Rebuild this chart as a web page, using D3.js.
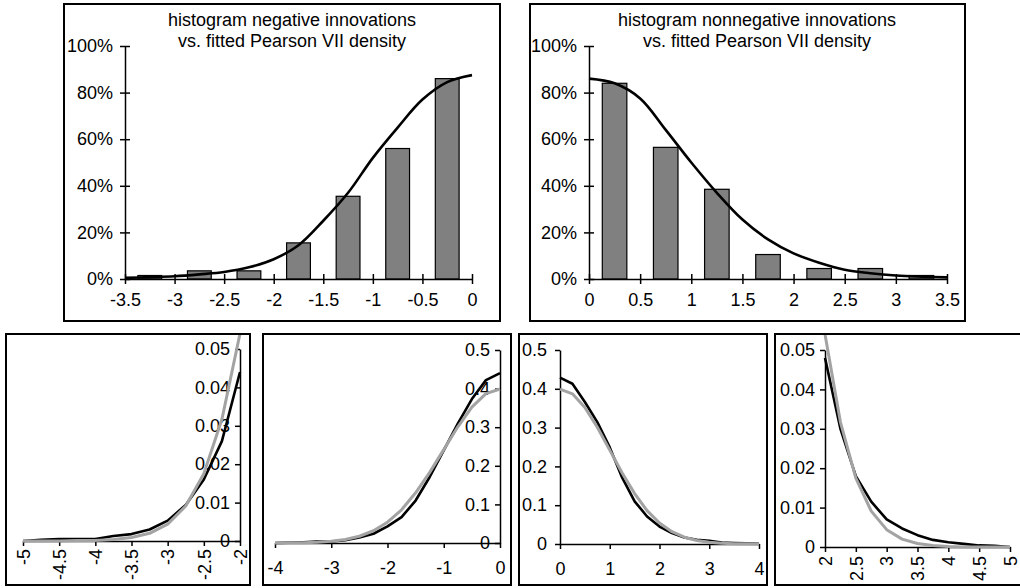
<!DOCTYPE html>
<html>
<head>
<meta charset="utf-8">
<script src="https://cdn.jsdelivr.net/npm/d3@7"></script>
<style>
  body { margin: 0; background: #fff; }
  svg { display: block; font-family: "Liberation Sans", Arial, sans-serif; }
</style>
</head>
<body>
<svg id="chart" width="1020" height="588"></svg>
<script>
// histogram data (share of max, 0..1)
const negBins = [-3.25, -2.75, -2.25, -1.75, -1.25, -0.75, -0.25];
const negHist = [0.015, 0.035, 0.035, 0.155, 0.355, 0.56, 0.86];
const posBins = [0.25, 0.75, 1.25, 1.75, 2.25, 2.75, 3.25];
const posHist = [0.84, 0.565, 0.385, 0.105, 0.045, 0.045, 0.015];

// fitted Pearson VII curves
const negCurveX = [-3.5, -3.25, -3, -2.75, -2.5, -2.25, -2, -1.75, -1.5, -1.25, -1, -0.75, -0.5, -0.25, 0];
const negCurveY = [0.005, 0.008, 0.012, 0.02, 0.03, 0.05, 0.085, 0.145, 0.25, 0.37, 0.52, 0.65, 0.77, 0.845, 0.875];
const posCurveX = [0, 0.25, 0.5, 0.75, 1, 1.25, 1.5, 1.75, 2, 2.25, 2.5, 2.75, 3, 3.25, 3.5];
const posCurveY = [0.86, 0.84, 0.775, 0.64, 0.5, 0.37, 0.255, 0.17, 0.11, 0.07, 0.04, 0.025, 0.015, 0.01, 0.007];

const pctTicks = [0, 0.2, 0.4, 0.6, 0.8, 1];
const negTicks = [-3.5, -3, -2.5, -2, -1.5, -1, -0.5, 0];
const posTicks = [0, 0.5, 1, 1.5, 2, 2.5, 3, 3.5];

// bottom panels: empirical (black) vs normal (grey)
const tailNegX = [-5, -4.75, -4.5, -4.25, -4, -3.75, -3.5, -3.25, -3, -2.75, -2.5, -2.25, -2];
const tailNegEmp = [0, 0.0003, 0.0005, 0.0005, 0.0005, 0.0013, 0.0018, 0.003, 0.0053, 0.0094, 0.016, 0.026, 0.044];
const tailNegNorm = [0, 0, 0, 0.0001, 0.0001, 0.0004, 0.0009, 0.002, 0.0044, 0.0091, 0.0175, 0.0317, 0.054];

const bodyNegX = [-4, -3.75, -3.5, -3.25, -3, -2.75, -2.5, -2.25, -2, -1.75, -1.5, -1.25, -1, -0.75, -0.5, -0.25, 0];
const bodyNegEmp = [0, 0.001, 0.002, 0.0035, 0.004, 0.007, 0.014, 0.024, 0.043, 0.067, 0.11, 0.171, 0.24, 0.309, 0.373, 0.422, 0.44];
const bodyNegNorm = [0.0001, 0.0004, 0.0009, 0.002, 0.0044, 0.0091, 0.0175, 0.0317, 0.054, 0.086, 0.13, 0.183, 0.242, 0.301, 0.352, 0.387, 0.399];

const bodyPosX = [0, 0.25, 0.5, 0.75, 1, 1.25, 1.5, 1.75, 2, 2.25, 2.5, 2.75, 3, 3.25, 3.5, 3.75, 4];
const bodyPosEmp = [0.429, 0.413, 0.366, 0.314, 0.249, 0.171, 0.11, 0.071, 0.045, 0.028, 0.017, 0.011, 0.008, 0.004, 0.0026, 0.0017, 0.0005];
const bodyPosNorm = [0.399, 0.387, 0.352, 0.301, 0.242, 0.183, 0.13, 0.086, 0.054, 0.0317, 0.0175, 0.0091, 0.0044, 0.002, 0.0009, 0.0004, 0.0001];

const tailPosX = [2, 2.25, 2.5, 2.75, 3, 3.25, 3.5, 3.75, 4, 4.25, 4.5, 4.75, 5];
const tailPosEmp = [0.048, 0.03, 0.018, 0.0115, 0.007, 0.0047, 0.003, 0.0018, 0.0012, 0.0008, 0.0004, 0.0003, 0];
const tailPosNorm = [0.054, 0.0317, 0.0175, 0.0091, 0.0044, 0.002, 0.0009, 0.0004, 0.0001, 0, 0, 0, 0];

const tailNegTicks = [-5, -4.5, -4, -3.5, -3, -2.5, -2];
const bodyNegTicks = [-4, -3, -2, -1, 0];
const bodyPosTicks = [0, 1, 2, 3, 4];
const tailPosTicks = [2, 2.5, 3, 3.5, 4, 4.5, 5];
const smallYTicks = [0, 0.01, 0.02, 0.03, 0.04, 0.05];
const bigYTicks = [0, 0.1, 0.2, 0.3, 0.4, 0.5];

const svg = d3.select('#chart');
const FONT = 18;

function styleAxis(g) {
    g.selectAll('path.domain').attr('stroke', '#000').attr('stroke-width', 1.5);
    g.selectAll('.tick line').attr('stroke', '#000').attr('stroke-width', 1.5);
    g.selectAll('text').attr('font-size', FONT).attr('fill', '#000')
        .attr('font-family', '"Liberation Sans", Arial, sans-serif');
}

// 0, 0.01 .. 0.05 or 0.1 .. 0.5
function numFmt(d) {
    if (d === 0) return '0';
    return d3.format(Math.abs(d) < 0.1 ? '.2f' : '.1f')(d);
}

// top histograms
function histPanel(o) {
    const g = svg.append('g');
    g.append('rect')
        .attr('x', o.box[0]).attr('y', o.box[1])
        .attr('width', o.box[2]).attr('height', o.box[3])
        .attr('fill', 'none').attr('stroke', '#000').attr('stroke-width', 2);

    const x = d3.scaleLinear().domain(o.xDomain).range(o.xRange);
    const y = d3.scaleLinear().domain([0, 1]).range([279, 46]);

    g.selectAll('rect.bar')
        .data(o.bins)
        .enter()
        .append('rect')
        .attr('class', 'bar')
        .attr('x', (d) => x(d - 0.12))
        .attr('width', x(0.24) - x(0))
        .attr('y', (d, i) => y(o.hist[i]))
        .attr('height', (d, i) => y(0) - y(o.hist[i]))
        .attr('fill', '#808080')
        .attr('stroke', '#000')
        .attr('stroke-width', 1.2);

    const line = d3.line()
        .x((d) => x(d[0]))
        .y((d) => y(d[1]))
        .curve(d3.curveCatmullRom);

    g.append('path')
        .datum(o.curveX.map((v, i) => [v, o.curveY[i]]))
        .attr('d', line)
        .attr('fill', 'none')
        .attr('stroke', '#000')
        .attr('stroke-width', 2.6);

    const yAxis = g.append('g')
        .attr('transform', 'translate(' + o.xRange[0] + ',0)')
        .call(d3.axisLeft(y).tickValues(pctTicks).tickFormat(d3.format('.0%')).tickSize(5).tickSizeOuter(0).tickPadding(7));
    yAxis.selectAll('.tick line').attr('x1', 5);
    styleAxis(yAxis);

    const xAxis = g.append('g')
        .attr('transform', 'translate(0,' + y(0) + ')')
        .call(d3.axisBottom(x).tickValues(o.ticks).tickFormat((d) => String(d)).tickSize(5).tickSizeOuter(0).tickPadding(9));
    xAxis.selectAll('.tick line').attr('y1', -5);
    styleAxis(xAxis);

    // title, two lines
    o.title.forEach((t, i) => {
        g.append('text')
            .attr('x', o.titleX)
            .attr('y', 26 + i * 21)
            .attr('text-anchor', 'middle')
            .attr('font-size', FONT)
            .text(t);
    });
}

histPanel({
    box: [64, 4, 436, 317],
    xDomain: [-3.5, 0], xRange: [125, 472],
    bins: negBins, hist: negHist,
    curveX: negCurveX, curveY: negCurveY,
    ticks: negTicks,
    title: ['histogram negative innovations', 'vs. fitted Pearson VII density'],
    titleX: 292
});

histPanel({
    box: [530, 4, 435, 317],
    xDomain: [0, 3.5], xRange: [589, 947],
    bins: posBins, hist: posHist,
    curveX: posCurveX, curveY: posCurveY,
    ticks: posTicks,
    title: ['histogram nonnegative innovations', 'vs. fitted Pearson VII density'],
    titleX: 757
});

// bottom comparison panels
let clipId = 0;
function linePanel(o) {
    const g = svg.append('g');
    const id = 'clip' + (clipId++);
    svg.append('clipPath').attr('id', id)
        .append('rect')
        .attr('x', o.box[0] + 1).attr('y', o.box[1] + 1)
        .attr('width', o.box[2] - 2).attr('height', o.box[3] - 2);

    g.append('rect')
        .attr('x', o.box[0]).attr('y', o.box[1])
        .attr('width', o.box[2]).attr('height', o.box[3])
        .attr('fill', 'none').attr('stroke', '#000').attr('stroke-width', 2);

    const x = d3.scaleLinear().domain(o.xDomain).range(o.xRange);
    const y = d3.scaleLinear().domain(o.yDomain).range(o.yRange);

    const yAxis = g.append('g')
        .attr('transform', 'translate(' + o.yAxisAt + ',0)')
        .call(d3.axisLeft(y).tickValues(o.yTicks).tickFormat(numFmt).tickSize(5).tickSizeOuter(0).tickPadding(o.yPad));
    styleAxis(yAxis);

    const xAxis = g.append('g')
        .attr('transform', 'translate(0,' + o.yRange[0] + ')')
        .call(d3.axisBottom(x).tickValues(o.xTicks).tickFormat((d) => String(d)).tickSize(5).tickSizeOuter(0).tickPadding(13));
    styleAxis(xAxis);

    if (o.rotate) {
        xAxis.selectAll('.tick text')
            .attr('transform', 'rotate(-90)')
            .attr('x', -o.rotOffset)
            .attr('y', 0)
            .attr('dy', '0.35em')
            .attr('text-anchor', 'end');
    }

    const line = d3.line()
        .x((d) => x(d[0]))
        .y((d) => y(d[1]));

    const lines = g.append('g').attr('clip-path', 'url(#' + id + ')');
    lines.append('path')
        .datum(o.xs.map((v, i) => [v, o.emp[i]]))
        .attr('d', line)
        .attr('fill', 'none')
        .attr('stroke', '#000')
        .attr('stroke-width', 2.6)
        .attr('stroke-linejoin', 'round');
    lines.append('path')
        .datum(o.xs.map((v, i) => [v, o.norm[i]]))
        .attr('d', line)
        .attr('fill', 'none')
        .attr('stroke', '#a3a3a3')
        .attr('stroke-width', 3)
        .attr('stroke-linejoin', 'round');
}

linePanel({
    box: [6, 334, 244, 251],
    xDomain: [-5, -2], xRange: [23, 240],
    yDomain: [0, 0.05], yRange: [541, 349],
    yAxisAt: 240, yPad: 5,
    xTicks: tailNegTicks, yTicks: smallYTicks,
    rotate: true, rotOffset: 8,
    xs: tailNegX, emp: tailNegEmp, norm: tailNegNorm
});

linePanel({
    box: [263, 334, 248, 251],
    xDomain: [-4, 0], xRange: [275, 500],
    yDomain: [0, 0.5], yRange: [543, 350],
    yAxisAt: 500, yPad: 5,
    xTicks: bodyNegTicks, yTicks: bigYTicks,
    xs: bodyNegX, emp: bodyNegEmp, norm: bodyNegNorm
});

linePanel({
    box: [519, 334, 248, 251],
    xDomain: [0, 4], xRange: [560, 759],
    yDomain: [0, 0.5], yRange: [544, 350],
    yAxisAt: 560, yPad: 8,
    xTicks: bodyPosTicks, yTicks: bigYTicks,
    xs: bodyPosX, emp: bodyPosEmp, norm: bodyPosNorm
});

linePanel({
    box: [775, 334, 246, 251],
    xDomain: [2, 5], xRange: [825, 1010],
    yDomain: [0, 0.05], yRange: [547, 350],
    yAxisAt: 825, yPad: 5,
    xTicks: tailPosTicks, yTicks: smallYTicks,
    rotate: true, rotOffset: 9,
    xs: tailPosX, emp: tailPosEmp, norm: tailPosNorm
});
</script>
</body>
</html>
